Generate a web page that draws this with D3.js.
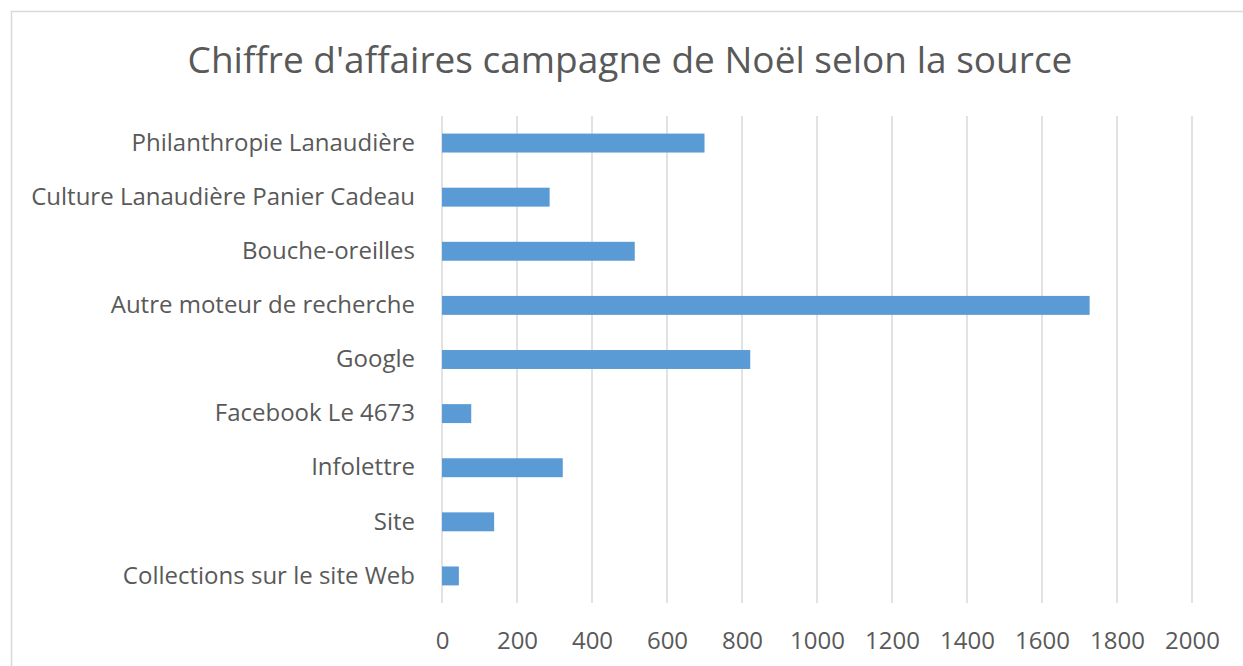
<!DOCTYPE html>
<html>
<head>
<meta charset="utf-8">
<script src="https://cdn.jsdelivr.net/npm/d3@7"></script>
<style>
  body { margin: 0; background: #fff; }
  text { font-family: "Open Sans", "Noto Sans", sans-serif; fill: #595959; }
</style>
</head>
<body>
<script>
const categories = [
    "Philanthropie Lanaudière",
    "Culture Lanaudière Panier Cadeau",
    "Bouche-oreilles",
    "Autre moteur de recherche",
    "Google",
    "Facebook Le 4673",
    "Infolettre",
    "Site",
    "Collections sur le site Web"
];
const values = [700, 287, 514, 1727, 822, 78, 322, 139, 45];
const ticks = [0, 200, 400, 600, 800, 1000, 1200, 1400, 1600, 1800, 2000];

const W = 1243, H = 666;
const margin = { top: 116, right: 51, bottom: 63, left: 442 };
const width = W - margin.left - margin.right,
    height = H - margin.top - margin.bottom;

const root = d3.select("body")
    .append("svg")
    .attr("width", W)
    .attr("height", H);

// chart border
root.append("rect")
    .attr("x", 11.5)
    .attr("y", 11.5)
    .attr("width", W)
    .attr("height", H)
    .attr("fill", "none")
    .attr("stroke", "#d9d9d9")
    .attr("stroke-width", 1.5);

// title
root.append("text")
    .attr("x", 630)
    .attr("y", 73)
    .attr("text-anchor", "middle")
    .style("font-size", "37px")
    .text("Chiffre d'affaires campagne de Noël selon la source");

const svg = root.append("g")
    .attr("transform", "translate(" + margin.left + "," + margin.top + ")");

const x = d3.scaleLinear().domain([0, 2000]).range([0, width]);
const y = d3.scaleBand().domain(categories).range([0, height]).paddingInner(0.65).paddingOuter(0.325);

// gridlines
svg.append("g")
    .selectAll("line")
    .data(ticks)
    .join("line")
    .attr("x1", d => x(d))
    .attr("x2", d => x(d))
    .attr("y1", 0)
    .attr("y2", height)
    .attr("stroke", "#d9d9d9")
    .attr("stroke-width", 1.5);

// bars
svg.append("g")
    .selectAll("rect")
    .data(values)
    .join("rect")
    .attr("x", x(0))
    .attr("y", (d, i) => y(categories[i]))
    .attr("width", d => x(d) - x(0))
    .attr("height", y.bandwidth())
    .attr("fill", "#5b9bd5");

// x axis labels
const xAxis = svg.append("g")
    .attr("transform", "translate(0," + height + ")")
    .call(d3.axisBottom(x).tickValues(ticks).tickSize(0).tickPadding(29).tickFormat(d3.format("d")));
xAxis.select(".domain").remove();
xAxis.selectAll("text").style("font-size", "24px").attr("fill", "#595959");

// y axis labels
const yAxis = svg.append("g")
    .call(d3.axisLeft(y).tickSize(0).tickPadding(27));
yAxis.select(".domain").remove();
yAxis.selectAll("text").style("font-size", "24px").attr("fill", "#595959");
</script>
</body>
</html>
